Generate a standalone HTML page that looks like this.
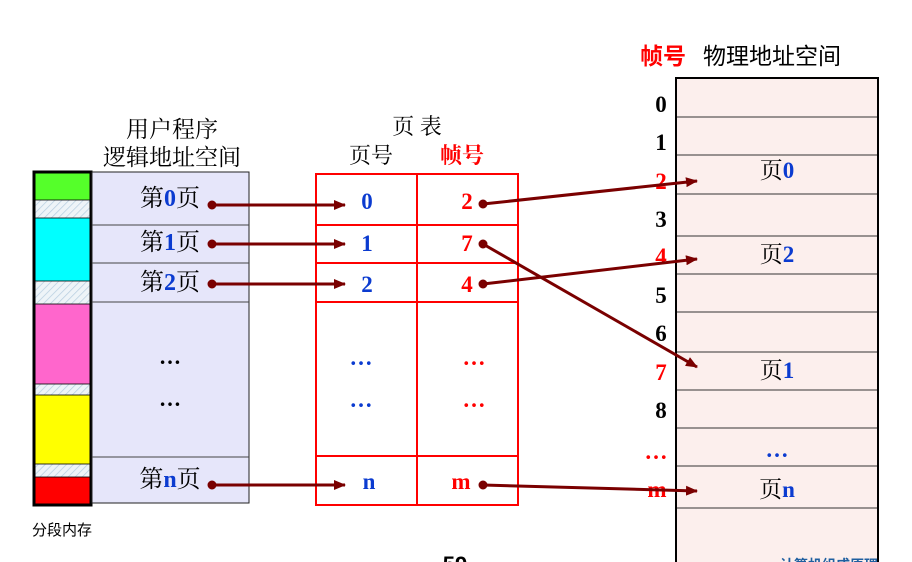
<!DOCTYPE html>
<html><head><meta charset="utf-8"><style>
body{margin:0;background:#fff}
svg{display:block;font-family:"Liberation Serif","Noto Serif CJK SC",serif}
.b{font-weight:bold}
</style></head><body>
<svg width="912" height="562" viewBox="0 0 912 562">
<defs>
<pattern id="hatch" width="5" height="5" patternUnits="userSpaceOnUse" patternTransform="rotate(45)"><rect width="5" height="5" fill="#eef4f8"/><line x1="0" y1="0" x2="0" y2="5" stroke="#b8cfe0" stroke-width="1.5"/></pattern>
<marker id="ah" markerWidth="12" markerHeight="10" refX="11" refY="5" orient="auto" markerUnits="userSpaceOnUse"><path d="M0,0 L12,5 L0,10 Z" fill="#7a0000"/></marker>
</defs>
<g>
<rect x="34" y="172" width="57" height="333" fill="url(#hatch)"/>
<rect x="34" y="172" width="57" height="28" fill="#55ff2a" stroke="#000" stroke-width="0.8"/>
<rect x="34" y="218" width="57" height="63" fill="#00ffff" stroke="#000" stroke-width="0.8"/>
<rect x="34" y="304" width="57" height="80" fill="#ff66cc" stroke="#000" stroke-width="0.8"/>
<rect x="34" y="395" width="57" height="69" fill="#ffff00" stroke="#000" stroke-width="0.8"/>
<rect x="34" y="477" width="57" height="28" fill="#ff0000" stroke="#000" stroke-width="0.8"/>
<rect x="34" y="172" width="57" height="333" fill="none" stroke="#000" stroke-width="3"/>
</g>
<text x="62" y="535" font-size="15" text-anchor="middle" font-family="Liberation Sans,Noto Sans CJK SC,sans-serif">分段内存</text>
<g>
<rect x="92" y="172" width="157" height="331" fill="#e6e6fa" stroke="#222" stroke-width="1"/>
<line x1="92" y1="225" x2="249" y2="225" stroke="#444"/>
<line x1="92" y1="263" x2="249" y2="263" stroke="#444"/>
<line x1="92" y1="302" x2="249" y2="302" stroke="#444"/>
<line x1="92" y1="457" x2="249" y2="457" stroke="#444"/>
<text x="170" y="206" font-size="24" text-anchor="middle">第<tspan class="b" fill="#0b3bd0">0</tspan>页</text>
<text x="170" y="250" font-size="24" text-anchor="middle">第<tspan class="b" fill="#0b3bd0">1</tspan>页</text>
<text x="170" y="290" font-size="24" text-anchor="middle">第<tspan class="b" fill="#0b3bd0">2</tspan>页</text>
<text x="170" y="364" font-size="22" text-anchor="middle" class="b">…</text>
<text x="170" y="406" font-size="22" text-anchor="middle" class="b">…</text>
<text x="170" y="487" font-size="24" text-anchor="middle">第<tspan class="b" fill="#0b3bd0">n</tspan>页</text>
</g>
<text x="172" y="137" font-size="23" text-anchor="middle">用户程序</text>
<text x="172" y="165" font-size="23" text-anchor="middle">逻辑地址空间</text>
<text x="417" y="134" font-size="22" text-anchor="middle">页 表</text>
<text x="371" y="163" font-size="22" text-anchor="middle">页号</text>
<text x="462" y="163" font-size="22" text-anchor="middle" fill="#ff0000" class="b">帧号</text>
<g stroke="#ff0000" stroke-width="2" fill="none">
<rect x="316" y="174" width="202" height="331"/>
<line x1="417" y1="174" x2="417" y2="505"/>
<line x1="316" y1="225" x2="518" y2="225"/>
<line x1="316" y1="263" x2="518" y2="263"/>
<line x1="316" y1="302" x2="518" y2="302"/>
<line x1="316" y1="456" x2="518" y2="456"/>
</g>
<g class="b" font-size="23" text-anchor="middle">
<text x="367" y="209" fill="#0b3bd0">0</text><text x="467" y="209" fill="#ff0000">2</text>
<text x="367" y="251" fill="#0b3bd0">1</text><text x="467" y="251" fill="#ff0000">7</text>
<text x="367" y="292" fill="#0b3bd0">2</text><text x="467" y="292" fill="#ff0000">4</text>
<text x="361" y="365" fill="#0b3bd0">…</text><text x="474" y="365" fill="#ff0000">…</text>
<text x="361" y="407" fill="#0b3bd0">…</text><text x="474" y="407" fill="#ff0000">…</text>
<text x="369" y="489" fill="#0b3bd0">n</text><text x="461" y="489" fill="#ff0000">m</text>
</g>
<text x="640" y="64" font-size="23" fill="#ff0000" class="b" font-family="Liberation Sans,Noto Sans CJK SC,sans-serif">帧号</text>
<text x="703" y="64" font-size="23" font-family="Liberation Sans,Noto Sans CJK SC,sans-serif">物理地址空间</text>
<g>
<rect x="676" y="78" width="202" height="500" fill="#fcefed" stroke="#000" stroke-width="2"/>
<g stroke="#333" stroke-width="1">
<line x1="677" y1="117" x2="877" y2="117"/><line x1="677" y1="155" x2="877" y2="155"/>
<line x1="677" y1="194" x2="877" y2="194"/><line x1="677" y1="236" x2="877" y2="236"/>
<line x1="677" y1="274" x2="877" y2="274"/><line x1="677" y1="312" x2="877" y2="312"/>
<line x1="677" y1="352" x2="877" y2="352"/><line x1="677" y1="390" x2="877" y2="390"/>
<line x1="677" y1="428" x2="877" y2="428"/><line x1="677" y1="466" x2="877" y2="466"/>
<line x1="677" y1="508" x2="877" y2="508"/>
</g>
<g font-size="23" text-anchor="middle">
<text x="777" y="178">页<tspan class="b" fill="#0b3bd0">0</tspan></text>
<text x="777" y="262">页<tspan class="b" fill="#0b3bd0">2</tspan></text>
<text x="777" y="378">页<tspan class="b" fill="#0b3bd0">1</tspan></text>
<text x="777" y="457" class="b" fill="#0b3bd0">…</text>
<text x="777" y="497">页<tspan class="b" fill="#0b3bd0">n</tspan></text>
</g>
<g class="b" font-size="23" text-anchor="middle">
<text x="661" y="112">0</text><text x="661" y="150">1</text>
<text x="661" y="189" fill="#ff0000">2</text><text x="661" y="227">3</text>
<text x="661" y="264" fill="#ff0000">4</text><text x="661" y="303">5</text>
<text x="661" y="341">6</text><text x="661" y="380" fill="#ff0000">7</text>
<text x="661" y="418">8</text><text x="656" y="459" fill="#ff0000">…</text>
<text x="657" y="497" fill="#ff0000">m</text>
</g>
</g>
<g stroke="#7a0000" stroke-width="3" fill="#7a0000">
<circle cx="212" cy="205" r="3"/><line x1="212" y1="205" x2="345" y2="205" marker-end="url(#ah)"/>
<circle cx="212" cy="244" r="3"/><line x1="212" y1="244" x2="345" y2="244" marker-end="url(#ah)"/>
<circle cx="212" cy="284" r="3"/><line x1="212" y1="284" x2="345" y2="284" marker-end="url(#ah)"/>
<circle cx="212" cy="485" r="3"/><line x1="212" y1="485" x2="345" y2="485" marker-end="url(#ah)"/>
<circle cx="483" cy="204" r="3"/><line x1="483" y1="204" x2="697" y2="181" marker-end="url(#ah)"/>
<circle cx="483" cy="244" r="3"/><line x1="483" y1="244" x2="697" y2="367" marker-end="url(#ah)"/>
<circle cx="483" cy="284" r="3"/><line x1="483" y1="284" x2="697" y2="259" marker-end="url(#ah)"/>
<circle cx="483" cy="485" r="3"/><line x1="483" y1="485" x2="697" y2="491" marker-end="url(#ah)"/>
</g>
<text x="455" y="572" font-size="22" text-anchor="middle" class="b" font-family="Liberation Sans,sans-serif">59</text>
<text x="780" y="570" font-size="14" fill="#1f5fa0" class="b" font-family="Liberation Sans,Noto Sans CJK SC,sans-serif">计算机组成原理</text>
</svg>
</body></html>
